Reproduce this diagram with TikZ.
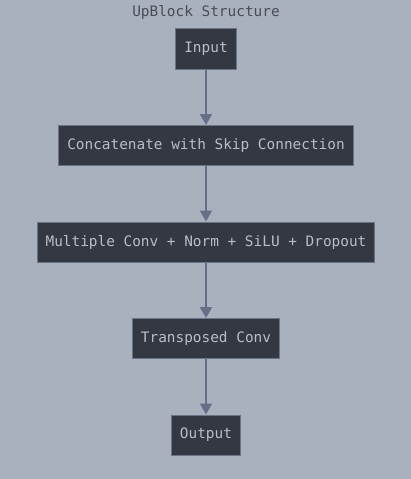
\documentclass[tikz,border=0pt]{standalone}
\usepackage{fontspec}
\setmonofont{DejaVu Sans Mono}
\usepackage{tikz}
\usetikzlibrary{arrows.meta,calc}
\usepackage{xcolor}
\definecolor{bgcol}{HTML}{AAB1BE}
\definecolor{boxcol}{HTML}{333842}
\definecolor{edgecol}{HTML}{6B7386}
\definecolor{txtcol}{HTML}{B8BDC7}
\definecolor{arrcol}{HTML}{657088}
\definecolor{titlecol}{HTML}{474C57}

\begin{document}
\begin{tikzpicture}[x=1pt,y=1pt,
    block/.style={draw=edgecol, line width=1pt, fill=boxcol, text=txtcol,
        font=\ttfamily\fontsize{14.4}{17}\selectfont,
        inner xsep=8.5pt, inner ysep=0pt, minimum height=40pt},
    flow/.style={draw=arrcol, line width=2pt, -{Triangle[length=11pt,width=12pt]}}]

    \useasboundingbox[fill=bgcol] (-206,49) rectangle (205,-430);

    \node[text=titlecol, font=\ttfamily\fontsize{14.4}{17}\selectfont] (title) at (0,37) {UpBlock Structure};
    \node[block] (input) at (0,0) {Input};
    \node[block] at ($(input)+(0,-96.5)$) (concat) {Concatenate with Skip Connection};
    \node[block] at ($(concat)+(0,-96.5)$) (multi) {Multiple Conv + Norm + SiLU + Dropout};
    \node[block] at ($(multi)+(0,-96.5)$) (tconv) {Transposed Conv};
    \node[block] at ($(tconv)+(0,-96.5)$) (output) {Output};
    \draw[flow] (input) -- (concat);
    \draw[flow] (concat) -- (multi);
    \draw[flow] (multi) -- (tconv);
    \draw[flow] (tconv) -- (output);
\end{tikzpicture}
\end{document}
